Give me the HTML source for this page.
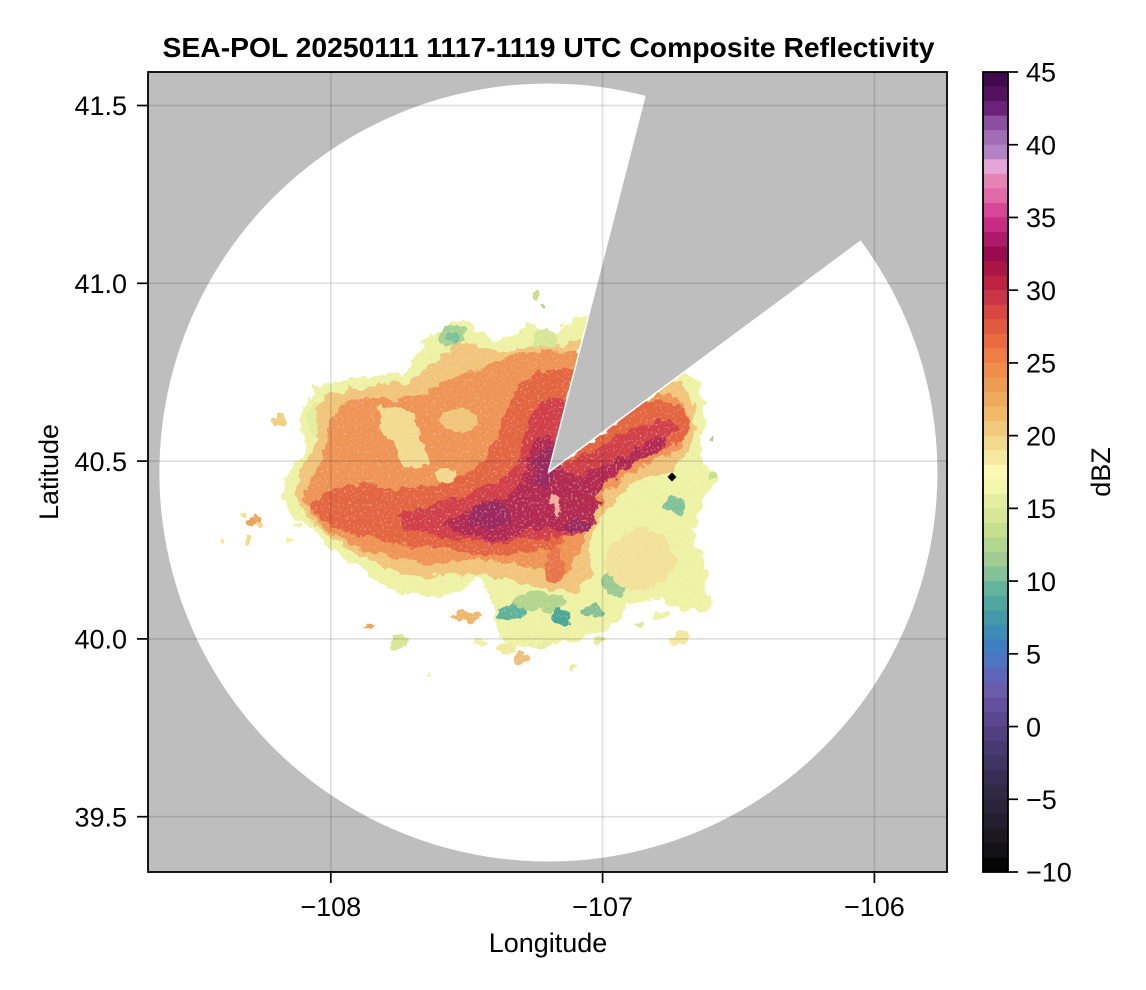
<!DOCTYPE html>
<html>
<head>
<meta charset="utf-8">
<style>
html,body{margin:0;padding:0;background:#fff;}
svg{display:block;}
text{font-family:"Liberation Sans",Arial,Helvetica,sans-serif;fill:#000;}
</style>
</head>
<body>
<svg width="1146" height="990" viewBox="0 0 1146 990" xmlns="http://www.w3.org/2000/svg">
<defs>
<clipPath id="plot"><rect x="148" y="72" width="799" height="800"/></clipPath>
<filter id="rough" x="-20%" y="-20%" width="140%" height="140%">
<feTurbulence type="fractalNoise" baseFrequency="0.09" numOctaves="3" seed="4" result="n"/>
<feDisplacementMap in="SourceGraphic" in2="n" scale="13" xChannelSelector="R" yChannelSelector="G"/>
</filter>
<filter id="speck" x="0" y="0" width="100%" height="100%">
<feTurbulence type="fractalNoise" baseFrequency="0.45" numOctaves="1" seed="9" result="t"/>
<feColorMatrix in="t" type="matrix" values="0 0 0 0 1  0 0 0 0 0.85  0 0 0 0 0.75  1.6 0 0 0 -0.95" result="sp"/>
<feComposite in="sp" in2="SourceAlpha" operator="in" result="sp2"/>
<feTurbulence type="fractalNoise" baseFrequency="0.5" numOctaves="1" seed="21" result="t2"/>
<feColorMatrix in="t2" type="matrix" values="0 0 0 0 0.45  0 0 0 0 0.05  0 0 0 0 0.3  1.4 0 0 0 -0.9" result="dk"/>
<feComposite in="dk" in2="SourceAlpha" operator="in" result="dk2"/>
<feMerge><feMergeNode in="SourceGraphic"/><feMergeNode in="sp2"/><feMergeNode in="dk2"/></feMerge>
</filter>
</defs>

<rect x="0" y="0" width="1146" height="990" fill="#fff"/>

<g clip-path="url(#plot)">
<rect x="148" y="72" width="799" height="800" fill="#bebebe"/>
<path d="M548.3,472.5 L861,241 A389,389 0 1 1 645,95.7 Z" fill="#fff"/>

<g filter="url(#speck)">
<g filter="url(#rough)">
<path fill="#eef3a6" d="M282,483 L290,468 302,458 304,440 300,420 310,400 313,387 330,383 348,379 362,377 380,373 398,375 410,368 418,356 423,342 438,331 452,323 462,318 472,323 478,333 492,337 502,341 513,334 525,326 534,323 541,331 550,339 560,330 571,322 580,316 590,316 L548,472 L683,371 L694,378 L703,393 L705,420 L700,445 L703,465 L714,474 L718,482 L707,492 L700,512 L694,533 L699,550 L703,568 L707,587 L714,605 L700,612 L686,610 L672,605 L660,600 L642,601 L628,604 L622,618 L610,628 L594,633 L576,640 L560,643 L541,647 L526,648 L511,645 L500,639 L495,620 L492,600 L485,585 L477,576 L468,585 L458,593 L444,598 L424,597 L405,595 L392,590 L375,580 L360,568 L345,560 L333,553 L322,540 L316,530 L300,521 L290,513 L283,500 Z"/>
<ellipse cx="452" cy="336" rx="13" ry="11" fill="#a6d394"/>
<ellipse cx="455" cy="338" rx="6" ry="6" fill="#7cc39a"/>
<ellipse cx="468" cy="383" rx="22" ry="11" fill="#c6df8e"/>
<ellipse cx="470" cy="385" rx="11" ry="6" fill="#9ccb94"/>
<ellipse cx="545" cy="345" rx="12" ry="18" fill="#d8e797"/>
<ellipse cx="540" cy="602" rx="26" ry="10" fill="#b3d68d"/>
<ellipse cx="512" cy="613" rx="15" ry="7" fill="#5fb49c"/>
<ellipse cx="560" cy="617" rx="9" ry="9" fill="#4aa89a"/>
<ellipse cx="592" cy="611" rx="11" ry="7" fill="#85c198"/>
<ellipse cx="615" cy="585" rx="13" ry="11" fill="#9ccb94"/>
<ellipse cx="675" cy="505" rx="10" ry="9" fill="#7fc39a"/>
<ellipse cx="318" cy="420" rx="10" ry="18" fill="#e2efa0"/>

<path fill="#f1c67c" d="M295,490 L301,470 L317,442 L316,410 L326,396 L350,390 L380,386 L405,384 L420,373 L440,356 L460,342 L480,346 L500,352 L520,346 L545,346 L565,345 L583,340 L548,472 L670,382 L681,386 L692,400 L695,430 L690,450 L670,470 L640,480 L615,500 L600,520 L590,545 L592,578 L575,592 L555,590 L530,585 L505,580 L480,572 L455,575 L430,578 L400,573 L375,563 L350,550 L330,536 L310,521 L298,505 Z"/>
<ellipse cx="640" cy="560" rx="35" ry="30" fill="#f3e29a"/>

<path fill="#ef9554" d="M302,498 L311,480 L324,452 L330,422 L345,402 L370,396 L395,400 L420,394 L445,381 L470,372 L490,362 L505,356 L525,351 L548,350 L579,352 L548,472 L655,393 L674,395 L687,410 L689,430 L680,449 L650,464 L625,474 L605,494 L590,520 L580,550 L568,574 L545,570 L520,566 L490,562 L460,560 L430,564 L400,560 L370,551 L345,541 L320,526 Z"/>
<path fill="#f3dc92" d="M378,410 L395,405 L412,415 L422,440 L428,462 L418,470 L402,462 L392,445 L382,430 Z"/>
<ellipse cx="447" cy="478" rx="12" ry="10" fill="#f3d98d"/>
<ellipse cx="460" cy="420" rx="18" ry="12" fill="#f1c67c"/>

<path fill="#e4663f" d="M308,506 L330,490 L360,484 L395,489 L430,486 L460,476 L485,460 L500,430 L510,402 L524,379 L544,370 L574,370 L548,472 L640,404 L660,400 L680,404 L690,420 L685,440 L660,452 L630,458 L600,475 L585,500 L575,530 L555,548 L530,552 L500,556 L470,553 L440,549 L410,546 L380,541 L355,536 L330,526 Z"/>
<ellipse cx="555" cy="565" rx="10" ry="18" fill="#e8764a"/>

<path fill="#d2404a" d="M395,516 L425,507 L450,500 L472,490 L495,482 L515,470 L522,445 L530,420 L540,402 L555,397 L570,400 L548,472 L600,447 L625,432 L650,422 L670,420 L678,428 L668,440 L640,448 L610,462 L595,485 L588,510 L585,532 L560,538 L530,540 L500,543 L470,542 L440,536 L410,528 Z"/>

<path fill="#b42b52" d="M440,525 L465,512 L487,502 L505,497 L520,484 L528,462 L533,444 L545,436 L555,444 L559,466 L574,478 L598,469 L622,457 L648,443 L664,437 L666,446 L648,457 L625,468 L606,482 L596,505 L596,526 L580,534 L560,530 L538,528 L515,535 L490,539 L462,535 Z"/>

<ellipse cx="490" cy="517" rx="22" ry="13" fill="#9c2c60"/>
<ellipse cx="545" cy="468" rx="11" ry="20" fill="#9c2c60"/>
<ellipse cx="577" cy="526" rx="13" ry="6" fill="#9c2c60"/>
<ellipse cx="556" cy="505" rx="3" ry="14" fill="#f0b0a0" transform="rotate(-20 556 505)"/>

<ellipse cx="280" cy="420" rx="6" ry="7" fill="#f0d080"/>
<ellipse cx="242" cy="514" rx="3" ry="3" fill="#f5e38c"/>
<ellipse cx="253" cy="520" rx="6" ry="5" fill="#eea65c"/>
<ellipse cx="259" cy="525" rx="4" ry="3" fill="#f3d98d"/>
<ellipse cx="224" cy="540" rx="3" ry="3" fill="#f5e090"/>
<ellipse cx="250" cy="541" rx="4" ry="3" fill="#f3d98d"/>
<ellipse cx="290" cy="541" rx="3" ry="3" fill="#eef3a6"/>
<ellipse cx="298" cy="527" rx="3" ry="3" fill="#eef3a6"/>
<ellipse cx="537" cy="296" rx="4" ry="6" fill="#c6df8e"/>
<ellipse cx="544" cy="306" rx="2" ry="2" fill="#a6d394"/>
<ellipse cx="712" cy="438" rx="2" ry="2" fill="#a6d394"/>
<ellipse cx="714" cy="477" rx="5" ry="3" fill="#c6df8e"/>
<ellipse cx="370" cy="625" rx="4" ry="3" fill="#eea65c"/>
<ellipse cx="398" cy="642" rx="8" ry="7" fill="#d8e797"/>
<ellipse cx="467" cy="616" rx="15" ry="5" fill="#f0b86c"/>
<ellipse cx="482" cy="642" rx="7" ry="3" fill="#eef3a6"/>
<ellipse cx="507" cy="648" rx="11" ry="5" fill="#f3e9a0"/>
<ellipse cx="520" cy="658" rx="9" ry="4" fill="#eec27a"/>
<ellipse cx="543" cy="645" rx="7" ry="4" fill="#e5eea0"/>
<ellipse cx="574" cy="667" rx="3" ry="3" fill="#e5eea0"/>
<ellipse cx="430" cy="675" rx="2" ry="2" fill="#eef3a6"/>
<ellipse cx="681" cy="638" rx="9" ry="7" fill="#f4e9a0"/>
<ellipse cx="661" cy="616" rx="8" ry="5" fill="#eef3a6"/>
<ellipse cx="640" cy="624" rx="5" ry="3" fill="#d8e797"/>
<ellipse cx="600" cy="640" rx="6" ry="4" fill="#e5eea0"/>
</g>
</g>

<polygon points="548.3,472.5 697.5,-108.7 1030.6,115.6" fill="#bebebe"/>
<line x1="548.3" y1="472.5" x2="645" y2="95.7" stroke="#fff" stroke-width="1.5"/>
<line x1="548.3" y1="472.5" x2="861" y2="241" stroke="#fff" stroke-width="1.5"/>

<polygon points="672,472.5 676.5,477 672,481.5 667.5,477" fill="#000"/>

<g stroke="rgba(0,0,0,0.12)" stroke-width="1.7">
<line x1="330.8" y1="72" x2="330.8" y2="872"/>
<line x1="602.6" y1="72" x2="602.6" y2="872"/>
<line x1="874.4" y1="72" x2="874.4" y2="872"/>
<line x1="148" y1="105.5" x2="947" y2="105.5"/>
<line x1="148" y1="283.3" x2="947" y2="283.3"/>
<line x1="148" y1="461.1" x2="947" y2="461.1"/>
<line x1="148" y1="638.9" x2="947" y2="638.9"/>
<line x1="148" y1="816.7" x2="947" y2="816.7"/>
</g>
</g>

<rect x="148" y="72" width="799" height="800" fill="none" stroke="#000" stroke-width="1.8"/>

<g stroke="#000" stroke-width="1.7">
<line x1="330.8" y1="872" x2="330.8" y2="883"/>
<line x1="602.6" y1="872" x2="602.6" y2="883"/>
<line x1="874.4" y1="872" x2="874.4" y2="883"/>
<line x1="137" y1="105.5" x2="148" y2="105.5"/>
<line x1="137" y1="283.3" x2="148" y2="283.3"/>
<line x1="137" y1="461.1" x2="148" y2="461.1"/>
<line x1="137" y1="638.9" x2="148" y2="638.9"/>
<line x1="137" y1="816.7" x2="148" y2="816.7"/>
</g>

<g font-size="27">
<text x="330.8" y="916" text-anchor="middle">−108</text>
<text x="602.6" y="916" text-anchor="middle">−107</text>
<text x="874.4" y="916" text-anchor="middle">−106</text>
<text x="127" y="115.2" text-anchor="end">41.5</text>
<text x="127" y="293" text-anchor="end">41.0</text>
<text x="127" y="470.8" text-anchor="end">40.5</text>
<text x="127" y="648.6" text-anchor="end">40.0</text>
<text x="127" y="826.4" text-anchor="end">39.5</text>
</g>

<text x="548" y="952" font-size="27" text-anchor="middle">Longitude</text>
<text x="0" y="0" font-size="27" text-anchor="middle" transform="translate(58,472) rotate(-90)">Latitude</text>
<text x="548.5" y="57" font-size="27.5" font-weight="bold" text-anchor="middle" textLength="772" lengthAdjust="spacingAndGlyphs">SEA-POL 20250111 1117-1119 UTC Composite Reflectivity</text>

<g>
<rect x="983" y="72" width="25" height="15" fill="#3f0a4e"/>
<rect x="983" y="86.55" width="25" height="15" fill="#52125f"/>
<rect x="983" y="101.09" width="25" height="15" fill="#6a2378"/>
<rect x="983" y="115.64" width="25" height="15" fill="#8c4fa0"/>
<rect x="983" y="130.18" width="25" height="15" fill="#a06db5"/>
<rect x="983" y="144.73" width="25" height="15" fill="#b183c3"/>
<rect x="983" y="159.27" width="25" height="15" fill="#e3a4d6"/>
<rect x="983" y="173.82" width="25" height="15" fill="#e683b6"/>
<rect x="983" y="188.36" width="25" height="15" fill="#e06aaa"/>
<rect x="983" y="202.91" width="25" height="15" fill="#d84698"/>
<rect x="983" y="217.45" width="25" height="15" fill="#c72c82"/>
<rect x="983" y="232" width="25" height="15" fill="#ae1a69"/>
<rect x="983" y="246.55" width="25" height="15" fill="#9a0a4e"/>
<rect x="983" y="261.09" width="25" height="15" fill="#aa1545"/>
<rect x="983" y="275.64" width="25" height="15" fill="#bd2341"/>
<rect x="983" y="290.18" width="25" height="15" fill="#c93546"/>
<rect x="983" y="304.73" width="25" height="15" fill="#da4743"/>
<rect x="983" y="319.27" width="25" height="15" fill="#e05a40"/>
<rect x="983" y="333.82" width="25" height="15" fill="#ea6b40"/>
<rect x="983" y="348.36" width="25" height="15" fill="#ef7e46"/>
<rect x="983" y="362.91" width="25" height="15" fill="#ef8d4c"/>
<rect x="983" y="377.45" width="25" height="15" fill="#ed9c56"/>
<rect x="983" y="392" width="25" height="15" fill="#eeab60"/>
<rect x="983" y="406.55" width="25" height="15" fill="#f1b96a"/>
<rect x="983" y="421.09" width="25" height="15" fill="#f0c97b"/>
<rect x="983" y="435.64" width="25" height="15" fill="#f3d98d"/>
<rect x="983" y="450.18" width="25" height="15" fill="#f7e8a0"/>
<rect x="983" y="464.73" width="25" height="15" fill="#fdf8b5"/>
<rect x="983" y="479.27" width="25" height="15" fill="#f4f6ad"/>
<rect x="983" y="493.82" width="25" height="15" fill="#e5eea0"/>
<rect x="983" y="508.36" width="25" height="15" fill="#d8e797"/>
<rect x="983" y="522.91" width="25" height="15" fill="#c6df8e"/>
<rect x="983" y="537.45" width="25" height="15" fill="#b3d68d"/>
<rect x="983" y="552" width="25" height="15" fill="#a0cc94"/>
<rect x="983" y="566.55" width="25" height="15" fill="#85c198"/>
<rect x="983" y="581.09" width="25" height="15" fill="#62b49c"/>
<rect x="983" y="595.64" width="25" height="15" fill="#4fa79f"/>
<rect x="983" y="610.18" width="25" height="15" fill="#4499a9"/>
<rect x="983" y="624.73" width="25" height="15" fill="#3d8db7"/>
<rect x="983" y="639.27" width="25" height="15" fill="#3f7fbf"/>
<rect x="983" y="653.82" width="25" height="15" fill="#4f74c0"/>
<rect x="983" y="668.36" width="25" height="15" fill="#5e65b7"/>
<rect x="983" y="682.91" width="25" height="15" fill="#6a5bab"/>
<rect x="983" y="697.45" width="25" height="15" fill="#6550a0"/>
<rect x="983" y="712" width="25" height="15" fill="#5a4790"/>
<rect x="983" y="726.55" width="25" height="15" fill="#50417e"/>
<rect x="983" y="741.09" width="25" height="15" fill="#473a70"/>
<rect x="983" y="755.64" width="25" height="15" fill="#3f3462"/>
<rect x="983" y="770.18" width="25" height="15" fill="#382e55"/>
<rect x="983" y="784.73" width="25" height="15" fill="#302943"/>
<rect x="983" y="799.27" width="25" height="15" fill="#29233a"/>
<rect x="983" y="813.82" width="25" height="15" fill="#221e2e"/>
<rect x="983" y="828.36" width="25" height="15" fill="#1b1822"/>
<rect x="983" y="842.91" width="25" height="15" fill="#121116"/>
<rect x="983" y="857.45" width="25" height="14.55" fill="#050505"/>
<rect x="983" y="72" width="25" height="800" fill="none" stroke="#000" stroke-width="1.8"/>
</g>
<g stroke="#000" stroke-width="1.7">
<line x1="1008" y1="72" x2="1018" y2="72"/>
<line x1="1008" y1="144.73" x2="1018" y2="144.73"/>
<line x1="1008" y1="217.45" x2="1018" y2="217.45"/>
<line x1="1008" y1="290.18" x2="1018" y2="290.18"/>
<line x1="1008" y1="362.91" x2="1018" y2="362.91"/>
<line x1="1008" y1="435.64" x2="1018" y2="435.64"/>
<line x1="1008" y1="508.36" x2="1018" y2="508.36"/>
<line x1="1008" y1="581.09" x2="1018" y2="581.09"/>
<line x1="1008" y1="653.82" x2="1018" y2="653.82"/>
<line x1="1008" y1="726.55" x2="1018" y2="726.55"/>
<line x1="1008" y1="799.27" x2="1018" y2="799.27"/>
<line x1="1008" y1="872" x2="1018" y2="872"/>
</g>
<g font-size="27">
<text x="1026" y="81.7">45</text>
<text x="1026" y="154.4">40</text>
<text x="1026" y="227.2">35</text>
<text x="1026" y="299.9">30</text>
<text x="1026" y="372.6">25</text>
<text x="1026" y="445.3">20</text>
<text x="1026" y="518.1">15</text>
<text x="1026" y="590.8">10</text>
<text x="1026" y="663.5">5</text>
<text x="1026" y="736.3">0</text>
<text x="1026" y="809">−5</text>
<text x="1026" y="881.7">−10</text>
</g>
<text x="0" y="0" font-size="27" text-anchor="middle" transform="translate(1110,472) rotate(-90)">dBZ</text>
</svg>
</body>
</html>
